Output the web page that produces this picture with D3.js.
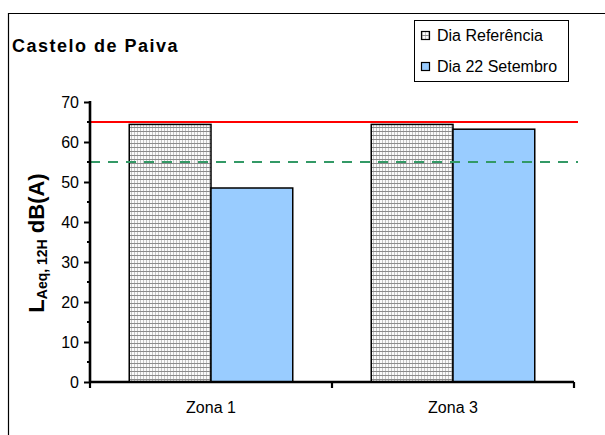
<!DOCTYPE html>
<html>
<head>
	<meta charset="utf-8">
	<title>Castelo de Paiva</title>
	<script src="https://cdn.jsdelivr.net/npm/d3@7"></script>
	<style>
		body { margin: 0; background: #fff; }
		text { font-family: "Liberation Sans", Arial, sans-serif; }
	</style>
</head>
<body>
	<script type="text/javascript">

		// data
		var zonas = ["Zona 1", "Zona 3"];
		var series = ["Dia Referência", "Dia 22 Setembro"];
		var diaReferencia = [64.4, 64.4];
		var dia22Setembro = [48.5, 63.2];
		var limiteDia = 65;     // red line
		var limiteZona = 55;    // green dashed line
		var yTicks = [0, 10, 20, 30, 40, 50, 60, 70];

		var width = 605, height = 435;
		var padL = 90, padR = 574, padT = 102, padB = 382;

		var svg = d3.select("body").append("svg")
			.attr("width", width)
			.attr("height", height);

		// hatched pattern for the reference bars
		var defs = svg.append("defs");
		var pat = defs.append("pattern")
			.attr("id", "grelha")
			.attr("patternUnits", "userSpaceOnUse")
			.attr("width", 3)
			.attr("height", 4);
		pat.append("rect").attr("width", 3).attr("height", 4).attr("fill", "#fafafa");
		pat.append("rect").attr("x", 2).attr("width", 1).attr("height", 4).attr("fill", "#c4c4c4");
		pat.append("rect").attr("y", 3).attr("width", 3).attr("height", 1).attr("fill", "#8a8a8a");

		// outer frame (cut at right and bottom)
		svg.append("path")
			.attr("d", "M8.5,440V13.5H620")
			.attr("fill", "none")
			.attr("stroke", "#000")
			.attr("stroke-width", 1.2);

		var y = d3.scaleLinear().domain([0, 70]).range([padB, padT]);
		var x0 = d3.scaleBand().domain(zonas).range([padL, padR]);
		var x1 = d3.scaleBand().domain(series).range([0, x0.bandwidth()]).paddingOuter(0.48);

		var rows = zonas.map(function (z, i) {
			return { zona: z, valores: [diaReferencia[i], dia22Setembro[i]] };
		});

		var grupos = svg.selectAll("g.zona")
			.data(rows)
			.enter().append("g")
			.attr("class", "zona")
			.attr("transform", function (d) { return "translate(" + x0(d.zona) + ",0)"; });

		grupos.selectAll("rect")
			.data(function (d) { return d.valores; })
			.enter().append("rect")
			.attr("x", function (d, i) { return x1(series[i]); })
			.attr("width", x1.bandwidth())
			.attr("y", function (d) { return y(d); })
			.attr("height", function (d) { return y(0) - y(d); })
			.attr("fill", function (d, i) { return i == 0 ? "url(#grelha)" : "#99ccff"; })
			.attr("stroke", "#000")
			.attr("stroke-width", 1.5);

		// limit lines
		svg.append("line")
			.attr("x1", padL).attr("x2", padR + 4)
			.attr("y1", y(limiteDia)).attr("y2", y(limiteDia))
			.attr("stroke", "#ff0000")
			.attr("stroke-width", 2.2);

		svg.append("line")
			.attr("x1", padL).attr("x2", padR + 4)
			.attr("y1", y(limiteZona)).attr("y2", y(limiteZona))
			.attr("stroke", "#339966")
			.attr("stroke-width", 2.2)
			.attr("stroke-dasharray", "10,8");

		// y axis
		var yAxis = d3.axisLeft(y).tickValues(yTicks).tickSize(6).tickPadding(5);
		var gy = svg.append("g")
			.attr("transform", "translate(" + padL + ",0)")
			.call(yAxis);
		gy.select(".domain").attr("stroke-width", 2.6).attr("d", "M0," + (padT - 1) + "V" + padB);
		gy.selectAll(".tick line").attr("stroke-width", 2);
		gy.selectAll(".tick text").attr("font-size", 16).attr("fill", "#000")
			.style("font-family", "Liberation Sans, Arial, sans-serif");

		// minor ticks
		var minor = d3.range(5, 70, 10);
		gy.selectAll(".minor")
			.data(minor)
			.enter().append("line")
			.attr("class", "minor")
			.attr("x1", -3).attr("x2", 0)
			.attr("y1", function (d) { return y(d); })
			.attr("y2", function (d) { return y(d); })
			.attr("stroke", "#000")
			.attr("stroke-width", 2);

		// x axis
		var gx = svg.append("g")
			.attr("transform", "translate(0," + padB + ")");
		gx.append("line")
			.attr("x1", padL).attr("x2", padR)
			.attr("stroke", "#000").attr("stroke-width", 2.6);
		gx.selectAll(".xtick")
			.data([padL, x0(zonas[1]), padR])
			.enter().append("line")
			.attr("x1", function (d) { return d; }).attr("x2", function (d) { return d; })
			.attr("y1", 0).attr("y2", 6)
			.attr("stroke", "#000").attr("stroke-width", 2.2);
		gx.selectAll("text")
			.data(zonas)
			.enter().append("text")
			.attr("x", function (d) { return x0(d) + x0.bandwidth() / 2; })
			.attr("y", 31)
			.attr("text-anchor", "middle")
			.attr("font-size", 16)
			.text(function (d) { return d; });

		// y label
		var yl = svg.append("text")
			.attr("transform", "translate(44,243) rotate(-90)")
			.attr("text-anchor", "middle")
			.attr("font-weight", "bold")
			.attr("font-size", 22);
		yl.append("tspan").text("L");
		yl.append("tspan").attr("font-size", 14).attr("dy", 3).text("Aeq, 12H");
		yl.append("tspan").attr("dy", -3).text(" dB(A)");

		// title
		svg.append("text")
			.attr("x", 12).attr("y", 52)
			.attr("font-weight", "bold")
			.attr("font-size", 18)
			.attr("letter-spacing", 1.5)
			.text("Castelo de Paiva");

		// legend
		var lg = svg.append("g").attr("transform", "translate(414,20)");
		lg.append("rect")
			.attr("x", 0.5).attr("y", 0.5)
			.attr("width", 154).attr("height", 61)
			.attr("fill", "#fff").attr("stroke", "#000").attr("stroke-width", 1);
		var items = lg.selectAll("g.item")
			.data(series)
			.enter().append("g")
			.attr("class", "item")
			.attr("transform", function (d, i) { return "translate(0," + (i * 31) + ")"; });
		items.append("rect")
			.attr("x", 7.5).attr("y", 11.5)
			.attr("width", 8).attr("height", 8)
			.attr("fill", function (d, i) { return i == 0 ? "url(#grelha)" : "#99ccff"; })
			.attr("stroke", "#000").attr("stroke-width", 1.2);
		items.append("text")
			.attr("x", 23).attr("y", 21)
			.attr("font-size", 16)
			.text(function (d) { return d; });

	</script>
</body>
</html>
